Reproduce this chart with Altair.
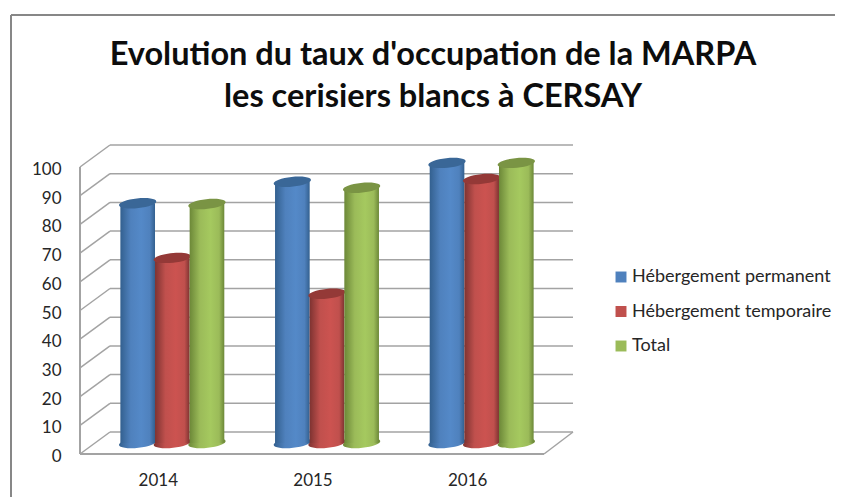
import altair as alt
import pandas as pd

years = ["2014", "2015", "2016"]
series = ["Hébergement permanent", "Hébergement temporaire", "Total"]
permanent = [83.5, 91, 97.6]
temporaire = [64.5, 52, 92]
total = [83.3, 88.9, 97.6]
ticks = list(range(0, 110, 10))
title_lines = ["Evolution du taux d'occupation de la MARPA", "les cerisiers blancs à CERSAY"]

main = ["#4F81BD", "#C0504D", "#9BBB59"]
edge = ["#33608F", "#7E3331", "#6C8838"]
light = ["#5489C8", "#CC5350", "#A5C95F"]
cap = ["#3A6797", "#943937", "#7A9444"]

rows = []
for s, vals in zip(series, [permanent, temporaire, total]):
    for y, v in zip(years, vals):
        rows.append({"year": y, "series": s, "value": v, "zero": 0})
df = pd.DataFrame(rows)

FONT = "Lato"
GRID = "#A3A3A3"
WALL_RISE = 7.67  # data units between the front and back walls
grid_df = pd.DataFrame({"tick": ticks})
grid_df["back"] = grid_df["tick"] + WALL_RISE

DX, DY = 15, -11
ys = alt.Scale(domain=[0, 100], range=[446, 159], nice=False, zero=False)
xs = alt.Scale(domain=years, range=[72 + DX, 536 + DX], paddingInner=0.328, paddingOuter=0.164)
xo = alt.Scale(domain=series, paddingInner=0, paddingOuter=0)

ELLIPSE = "M-1,0 A1,0.26 -6 1 1 1,0 A1,0.26 -6 1 1 -1,0 Z"
CAP_SIZE = 1225

y_axis = alt.Axis(
    values=ticks, title=None, domain=False, ticks=False, grid=False,
    offset=-53, labelPadding=0, labelOffset=2.5, labelFont=FONT, labelFontSize=17,
    labelColor="#262626", labelAlign="right", labelBaseline="middle")
x_axis = alt.Axis(
    title=None, domain=False, ticks=False, grid=False, labelAngle=0, offset=-44,
    labelPadding=19, labelOffset=-14, labelFont=FONT, labelFontSize=17, labelColor="#262626")
Y_T = alt.Y("tick:Q", scale=ys, axis=y_axis)
Y_B = alt.Y("back:Q", scale=ys, axis=y_axis)
Y_V = alt.Y("value:Q", scale=ys, axis=y_axis)
Y_Z = alt.Y("zero:Q", scale=ys, axis=y_axis)
X = alt.X("year:N", scale=xs, axis=x_axis)
XO = alt.XOffset("series:N", scale=xo, sort=series)


def grad(i):
    return alt.LinearGradient(
        gradient="linear", x1=0, x2=1, y1=0, y2=0,
        stops=[
            alt.GradientStop(offset=0, color=edge[i]),
            alt.GradientStop(offset=0.3, color=main[i]),
            alt.GradientStop(offset=0.6, color=light[i]),
            alt.GradientStop(offset=0.85, color=main[i]),
            alt.GradientStop(offset=1, color=edge[i]),
        ],
    )


grid_base = alt.Chart(grid_df)
back_lines = grid_base.mark_rule(color=GRID, strokeWidth=1.5).encode(
    x=alt.value(102), x2=alt.value(565), y=Y_B)
side_lines = grid_base.mark_rule(color=GRID, strokeWidth=1.5).encode(
    x=alt.value(72), x2=alt.value(102), y=Y_T, y2="back:Q")
floor_df = grid_df[grid_df["tick"] == 0]
floor_front = alt.Chart(floor_df).mark_rule(color=GRID, strokeWidth=2).encode(
    x=alt.value(72), x2=alt.value(536), y=Y_T)
floor_side = alt.Chart(floor_df).mark_rule(color=GRID, strokeWidth=1.5).encode(
    x=alt.value(536), x2=alt.value(565), y=Y_T, y2="back:Q")
wall_df = grid_df[grid_df["tick"].isin([0])].assign(top=100)
wall_left = alt.Chart(wall_df).mark_rule(color=GRID, strokeWidth=2).encode(
    x=alt.value(72), y=Y_T, y2="top:Q")

layers = [back_lines, side_lines, floor_front, floor_side, wall_left]
for i, s in enumerate(series):
    base = alt.Chart(df[df["series"] == s])
    layers.append(base.mark_point(shape=ELLIPSE, size=CAP_SIZE, fill=grad(i), filled=True, opacity=1,
                                  yOffset=DY).encode(x=X, xOffset=XO, y=Y_Z))
    layers.append(base.mark_bar(fill=grad(i), yOffset=DY, y2Offset=DY).encode(
        x=X, xOffset=XO, y=Y_V, y2="zero:Q"))
    layers.append(base.mark_point(shape=ELLIPSE, size=CAP_SIZE, fill=cap[i], filled=True, opacity=1,
                                  yOffset=DY).encode(x=X, xOffset=XO, y=Y_V))

legend_layer = alt.Chart(df).mark_point(shape="square", filled=True, opacity=0).encode(
    x=X, y=Y_V,
    color=alt.Color("series:N", scale=alt.Scale(domain=series, range=main), legend=alt.Legend(
        title=None, orient="none", legendX=604, legendY=260, symbolType="square", symbolSize=120,
        symbolOpacity=1, symbolStrokeWidth=0, labelFont=FONT, labelFontSize=18, labelColor="#262626",
        labelOffset=2, rowPadding=16.5, labelLimit=260)),
)
layers.append(legend_layer)

frame = alt.Chart(grid_df.head(1))
layers.append(frame.mark_rule(color="#878787", strokeWidth=2).encode(
    x=alt.value(3), x2=alt.value(827), y=alt.value(7)))
layers.append(frame.mark_rule(color="#878787", strokeWidth=2).encode(
    x=alt.value(3), y=alt.value(7), y2=alt.value(489)))

chart = alt.layer(*layers).properties(
    width=827, height=489, padding=0, autosize=alt.AutoSizeParams(type="none"),
    background="white",
    title=alt.TitleParams(text=title_lines, anchor="start", font=FONT, fontSize=32.5, fontWeight="bold",
                          color="#0D0D0D", align="center", baseline="top", dx=425, dy=105, lineHeight=42,
                          offset=0, frame="group"),
).configure_view(stroke=None)

chart.save("out.html", embed_options={"renderer": "svg", "actions": False})
